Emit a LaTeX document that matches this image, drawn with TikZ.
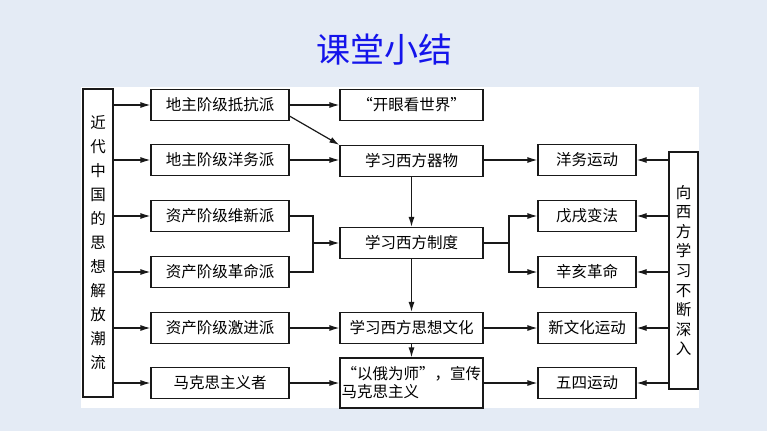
\documentclass[tikz,border=0pt]{standalone}
\usepackage{fontspec}
\newfontfamily\cjk{Noto Sans CJK SC}
\usetikzlibrary{arrows.meta}
\definecolor{slidebg}{RGB}{228,235,245}
\definecolor{titleblue}{RGB}{20,20,235}
\tikzset{
        box/.style={draw=black!90, line width=0.42mm, inner sep=0pt, minimum height=31pt, font=\cjk\fontsize{15.5}{18}\selectfont},
        school/.style={box, minimum width=138pt},
        learn/.style={box, minimum width=143pt},
        movement/.style={box, minimum width=98pt},
        tall/.style={box, align=center, font=\cjk\fontsize{15.5}{24}\selectfont},
        link/.style={draw=black!90, line width=0.42mm},
        arr/.style={link, -{Latex[length=10pt,width=6pt]}},
        title/.style={text=titleblue, font=\cjk\fontsize{34}{38}\selectfont}
          }
\begin{document}
\begin{tikzpicture}[x=1pt, y=-1pt]
            \useasboundingbox (0,0) rectangle (767,431);
            \fill[slidebg] (0,0) rectangle (767,431);
            \fill[white] (81,87) rectangle (699,408);
            \node[title] (head) at (384,50) {课堂小结};
            \node[tall, minimum width=30pt, minimum height=308pt] (thought) at (98,243) {近\\代\\中\\国\\的\\思\\想\\解\\放\\潮\\流};
            \node[tall, minimum width=29pt, minimum height=237pt, font=\cjk\fontsize{15.5}{19.6}\selectfont] (deeper) at (683.5,270.5) {向\\西\\方\\学\\习\\不\\断\\深\\入};
            \node[school] (resist) at (220,105) {地主阶级抵抗派};
            \node[school] (westn) at (220,160) {地主阶级洋务派};
            \node[school] (reform) at (220,216) {资产阶级维新派};
            \node[school] (revol) at (220,272) {资产阶级革命派};
            \node[school] (radical) at (220,328) {资产阶级激进派};
            \node[school] (marxist) at (220,383) {马克思主义者};
            \node[learn] (eyes) at (411.5,105) {“开眼看世界”};
            \node[learn] (tools) at (411.5,161) {学习西方器物};
            \node[learn] (system) at (411.5,243) {学习西方制度};
            \node[learn] (culture) at (411.5,328) {学习西方思想文化};
            \node[learn, minimum height=50pt, align=left, text width=140pt] (russia) at (411.5,383) {“以俄为师”，宣传\\马克思主义};
            \node[movement] (ywyd) at (587,160) {洋务运动};
            \node[movement] (wxbf) at (587,216) {戊戌变法};
            \node[movement] (xhgm) at (587,272) {辛亥革命};
            \node[movement] (xwh) at (587,328) {新文化运动};
            \node[movement] (wsyd) at (587,383) {五四运动};
            \coordinate (joinl) at (313,243);
            \coordinate (joinr) at (509,243);
            \foreach \s in {resist,westn,reform,revol,radical,marxist}
              \draw[arr] (thought.east |- \s.west) -- (\s.west);
            \foreach \m in {ywyd,wxbf,xhgm,xwh,wsyd}
              \draw[arr] (deeper.west |- \m.east) -- (\m.east);
            \draw[arr] (resist) -- (eyes);
            \draw[arr] ([yshift=5pt]resist.south east) -- (tools.north west);
            \draw[arr] (westn.east) -- (westn.east -| tools.west);
            \draw[link] (reform.east) -| (joinl) |- (revol.east);
            \draw[arr] (joinl) -- (system.west);
            \draw[arr] (radical) -- (culture);
            \draw[arr] (marxist) -- (russia);
            \draw[arr] (tools) -- (system);
            \draw[arr] (system) -- (culture);
            \draw[arr] (culture) -- (russia);
            \draw[arr] (tools.east |- ywyd.west) -- (ywyd.west);
            \draw[link] (system.east) -- (joinr);
            \draw[arr] (joinr) |- (wxbf.west);
            \draw[arr] (joinr) |- (xhgm.west);
            \draw[arr] (culture) -- (xwh);
            \draw[arr] (russia) -- (wsyd);
          \end{tikzpicture}
\end{document}
